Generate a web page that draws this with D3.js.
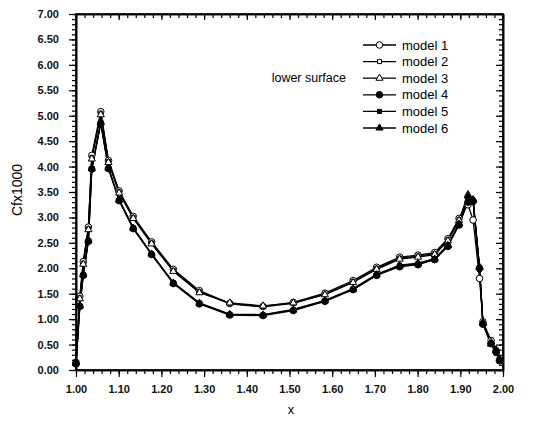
<!DOCTYPE html>
<html>
<head>
<meta charset="utf-8">
<script src="https://cdn.jsdelivr.net/npm/d3@7"></script>
<style>
  body { margin: 0; background: #fff; }
  svg { display: block; font-family: "Liberation Sans", Arial, sans-serif; }
  .axis text { font-size: 11px; font-weight: bold; fill: #111; }
</style>
</head>
<body>
<div class="chart"></div>
<script>
// shared x positions of the stations
const xVals = [1.000, 1.009, 1.017, 1.029, 1.037, 1.058, 1.076, 1.101, 1.134, 1.177,
  1.228, 1.289, 1.360, 1.438, 1.509, 1.583, 1.649, 1.704, 1.758, 1.801,
  1.840, 1.871, 1.897, 1.918, 1.930, 1.945, 1.953, 1.972, 1.984, 1.992];

const model1 = [0.15, 1.45, 2.13, 2.81, 4.22, 5.08, 4.12, 3.52, 3.02, 2.52, 1.98, 1.56, 1.31, 1.25, 1.33, 1.51, 1.76, 2.02, 2.22, 2.26, 2.31, 2.58, 2.98, 3.25, 2.95, 1.80, 0.95, 0.58, 0.38, 0.20];
const model2 = [0.15, 1.42, 2.10, 2.78, 4.18, 5.05, 4.10, 3.50, 3.00, 2.50, 1.96, 1.54, 1.30, 1.24, 1.31, 1.49, 1.74, 2.00, 2.20, 2.24, 2.29, 2.56, 2.96, 3.35, 3.32, 2.00, 0.92, 0.52, 0.36, 0.18];
const model3 = [0.16, 1.40, 2.08, 2.76, 4.15, 5.02, 4.08, 3.48, 2.98, 2.48, 1.94, 1.52, 1.32, 1.26, 1.32, 1.48, 1.72, 1.98, 2.18, 2.22, 2.27, 2.54, 2.94, 3.45, 3.35, 2.02, 0.93, 0.55, 0.40, 0.22];
const model4 = [0.12, 1.25, 1.86, 2.53, 3.95, 4.85, 3.96, 3.33, 2.78, 2.27, 1.70, 1.30, 1.08, 1.07, 1.17, 1.35, 1.58, 1.86, 2.03, 2.07, 2.17, 2.43, 2.85, 3.30, 3.32, 2.00, 0.90, 0.52, 0.35, 0.18];
const model5 = [0.13, 1.27, 1.88, 2.55, 3.97, 4.87, 3.98, 3.35, 2.80, 2.29, 1.72, 1.32, 1.10, 1.09, 1.19, 1.37, 1.60, 1.88, 2.06, 2.10, 2.19, 2.46, 2.88, 3.32, 3.30, 1.98, 0.91, 0.50, 0.33, 0.17];
const model6 = [0.14, 1.26, 1.87, 2.54, 3.96, 4.86, 3.97, 3.34, 2.79, 2.28, 1.71, 1.31, 1.09, 1.08, 1.18, 1.36, 1.59, 1.87, 2.05, 2.09, 2.18, 2.45, 2.87, 3.42, 3.34, 2.02, 0.92, 0.51, 0.38, 0.20];

const modelNames = ['model 1', 'model 2', 'model 3', 'model 4', 'model 5', 'model 6'];
const modelValues = [model1, model2, model3, model4, model5, model6];

const xTicks = [1.00, 1.10, 1.20, 1.30, 1.40, 1.50, 1.60, 1.70, 1.80, 1.90, 2.00];
const yTicks = [0.00, 0.50, 1.00, 1.50, 2.00, 2.50, 3.00, 3.50, 4.00, 4.50, 5.00, 5.50, 6.00, 6.50, 7.00];

// marker styles per model
const markers = [
  {shape: d3.symbolCircle, size: 34, fill: '#fff'},
  {shape: d3.symbolSquare, size: 16, fill: '#fff'},
  {shape: d3.symbolTriangle, size: 22, fill: '#fff'},
  {shape: d3.symbolCircle, size: 34, fill: '#000'},
  {shape: d3.symbolSquare, size: 16, fill: '#000'},
  {shape: d3.symbolTriangle, size: 22, fill: '#000'}
];

const W = 534, H = 423;
const margin = {top: 14, right: 31, bottom: 53, left: 76};
const width = W - margin.left - margin.right;
const height = H - margin.top - margin.bottom;

const svg = d3.select('.chart').append('svg')
  .attr('width', W)
  .attr('height', H);

const g = svg.append('g')
  .attr('transform', `translate(${margin.left},${margin.top})`);

const xScale = d3.scaleLinear().domain([1, 2]).range([0, width]);
const yScale = d3.scaleLinear().domain([0, 7]).range([height, 0]);

const xMinor = d3.range(0, 51).map(i => 1 + i * 0.02);
const yMinor = d3.range(0, 71).map(i => i * 0.1);

// lines and markers
const line = d3.line()
  .x(d => xScale(d[0]))
  .y(d => yScale(d[1]));

const marks = g.append('g');

modelValues.forEach((vals, i) => {
  const pts = xVals.map((x, j) => [x, vals[j]]);
  marks.append('path')
    .datum(pts)
    .attr('fill', 'none')
    .attr('stroke', '#000')
    .attr('stroke-width', 1.3)
    .attr('d', line);
});

modelValues.forEach((vals, i) => {
  const m = markers[i];
  const pts = xVals.map((x, j) => [x, vals[j]]);
  marks.selectAll('.mk' + i)
    .data(pts)
    .enter()
    .append('path')
    .attr('class', 'mk' + i)
    .attr('transform', d => `translate(${xScale(d[0])},${yScale(d[1])})`)
    .attr('d', d3.symbol().type(m.shape).size(m.size))
    .attr('fill', m.fill)
    .attr('stroke', '#000')
    .attr('stroke-width', 1);
});

// frame, drawn from the scale ranges
g.append('rect')
  .attr('x', xScale.range()[0])
  .attr('y', yScale.range()[1])
  .attr('width', xScale.range()[1] - xScale.range()[0])
  .attr('height', yScale.range()[0] - yScale.range()[1])
  .attr('fill', 'none')
  .attr('stroke', '#000')
  .attr('stroke-width', 1.6);

// minor ticks (no labels)
g.append('g')
  .attr('class', 'axis')
  .attr('transform', `translate(0,${height})`)
  .call(d3.axisBottom(xScale).tickValues(xMinor).tickSizeInner(4).tickSizeOuter(0).tickFormat(''));
g.append('g')
  .attr('class', 'axis')
  .call(d3.axisTop(xScale).tickValues(xMinor).tickSizeInner(-4).tickSizeOuter(0).tickFormat(''));
g.append('g')
  .attr('class', 'axis')
  .call(d3.axisLeft(yScale).tickValues(yMinor).tickSizeInner(4).tickSizeOuter(0).tickFormat(''));
g.append('g')
  .attr('class', 'axis')
  .attr('transform', `translate(${width},0)`)
  .call(d3.axisRight(yScale).tickValues(yMinor).tickSizeInner(-4).tickSizeOuter(0).tickFormat(''));

// major ticks with labels
g.append('g')
  .attr('class', 'axis')
  .attr('transform', `translate(0,${height})`)
  .call(d3.axisBottom(xScale).tickValues(xTicks).tickSizeInner(7).tickSizeOuter(0).tickPadding(8).tickFormat(d3.format('.2f')));
g.append('g')
  .attr('class', 'axis')
  .call(d3.axisTop(xScale).tickValues(xTicks).tickSizeInner(-6).tickSizeOuter(0).tickFormat(''));
g.append('g')
  .attr('class', 'axis')
  .call(d3.axisLeft(yScale).tickValues(yTicks).tickSizeInner(7).tickSizeOuter(0).tickPadding(10).tickFormat(d3.format('.2f')));
g.append('g')
  .attr('class', 'axis')
  .attr('transform', `translate(${width},0)`)
  .call(d3.axisRight(yScale).tickValues(yTicks).tickSizeInner(-7).tickSizeOuter(0).tickFormat(''));

g.selectAll('.axis line').attr('stroke', '#000').attr('stroke-width', 1.2);
g.selectAll('.axis .domain').attr('stroke', '#000').attr('stroke-width', 1.6);

// legend
const legend = svg.append('g');
modelNames.forEach((name, i) => {
  const y = 45 + i * 16.6;
  legend.append('line')
    .attr('x1', 363).attr('x2', 396)
    .attr('y1', y).attr('y2', y)
    .attr('stroke', '#000').attr('stroke-width', 1.3);
  legend.append('path')
    .attr('transform', `translate(379.5,${y})`)
    .attr('d', d3.symbol().type(markers[i].shape).size(markers[i].size))
    .attr('fill', markers[i].fill)
    .attr('stroke', '#000');
  legend.append('text')
    .attr('x', 402)
    .attr('y', y + 4.5)
    .attr('font-size', 13)
    .text(name);
});

svg.append('text')
  .attr('x', 346)
  .attr('y', 82)
  .attr('text-anchor', 'end')
  .attr('font-size', 12.5)
  .text('lower surface');

svg.append('text')
  .attr('transform', 'translate(22,190) rotate(-90)')
  .attr('text-anchor', 'middle')
  .attr('font-size', 14)
  .text('Cfx1000');

svg.append('text')
  .attr('x', 291)
  .attr('y', 414)
  .attr('text-anchor', 'middle')
  .attr('font-size', 13)
  .text('x');
</script>
</body>
</html>
